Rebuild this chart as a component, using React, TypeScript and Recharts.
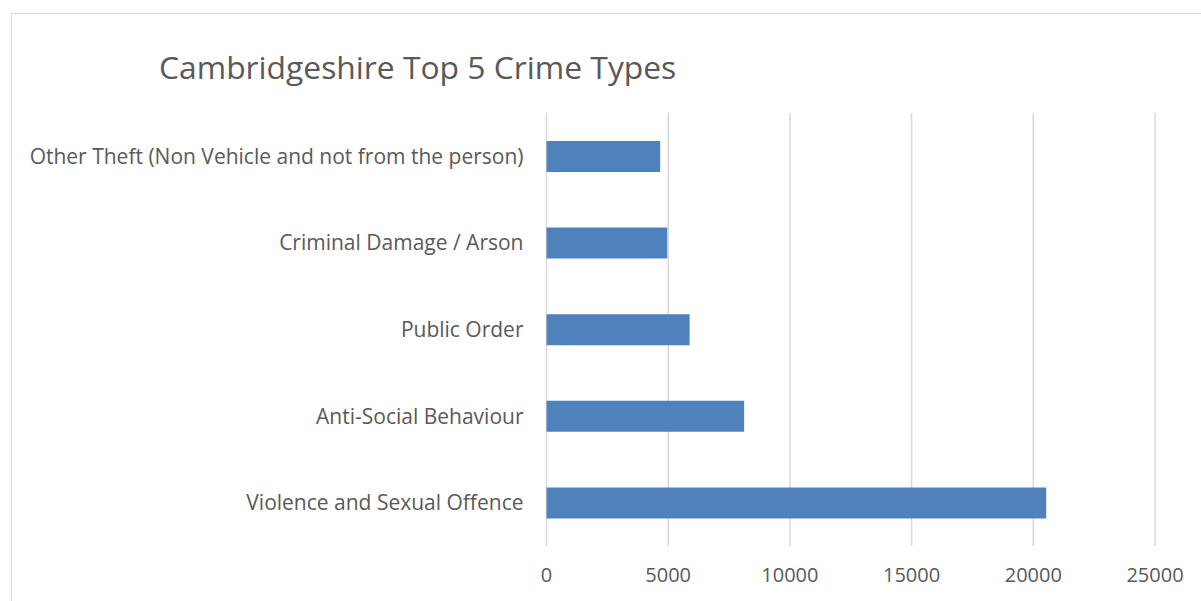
import React from 'react';
import { BarChart, Bar, XAxis, YAxis, CartesianGrid } from 'recharts';

const categories = [
  'Other Theft (Non Vehicle and not from the person)',
  'Criminal Damage / Arson',
  'Public Order',
  'Anti-Social Behaviour',
  'Violence and Sexual Offence',
];
const crimeCounts = [4670, 4960, 5880, 8120, 20530];
const xTicks = [0, 5000, 10000, 15000, 20000, 25000];
const title = 'Cambridgeshire Top 5 Crime Types';

const data = categories.map((name, i) => ({ name, value: crimeCounts[i] }));

const FONT = '"Open Sans", sans-serif';
const TEXT = '#595959';

export default function App() {
  return (
    <div style={{ position: 'fixed', left: 0, top: 0, width: 1201, height: 601, overflow: 'hidden', background: '#fff' }}>
      <div style={{ position: 'absolute', left: 11, top: 13, width: 1300, height: 700, border: '1px solid #d9d9d9', boxSizing: 'border-box' }} />
      <div style={{ position: 'absolute', left: 159, top: 47, fontFamily: FONT, fontSize: 31.8, color: TEXT, whiteSpace: 'nowrap', lineHeight: '40px' }}>
        {title}
      </div>
      <div style={{ position: 'absolute', left: 0, top: 0 }}>
        <BarChart
          width={1201}
          height={601}
          data={data}
          layout="vertical"
          margin={{ top: 113, right: 46, bottom: 15, left: 0 }}
          barSize={31}
        >
          <CartesianGrid horizontal={false} vertical={true} stroke="#d9d9d9" strokeWidth={1.5} />
          <XAxis
            type="number"
            domain={[0, 25000]}
            ticks={xTicks}
            axisLine={false}
            tickLine={false}
            tickSize={0}
            tickMargin={22}
            height={40}
            interval={0}
            tick={{ fill: TEXT, fontSize: 20, fontFamily: FONT }}
          />
          <YAxis
            type="category"
            dataKey="name"
            width={546.5}
            axisLine={false}
            tickLine={false}
            tickSize={0}
            tickMargin={23}
            interval={0}
            tick={{ fill: TEXT, fontSize: 21, fontFamily: FONT }}
          />
          <Bar dataKey="value" fill="#4f81bd" isAnimationActive={false} />
        </BarChart>
      </div>
    </div>
  );
}
